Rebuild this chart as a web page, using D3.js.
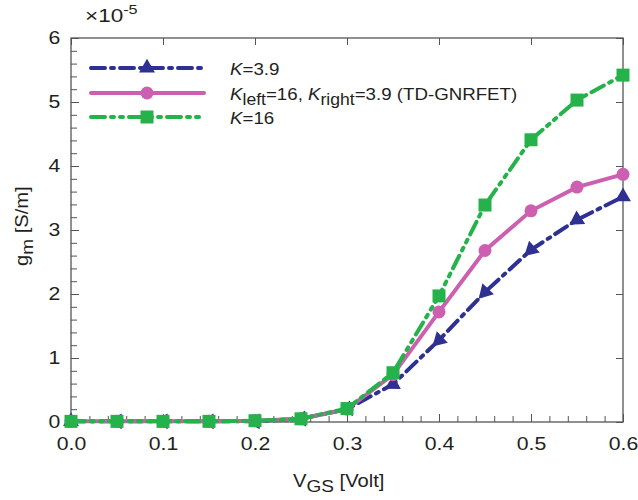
<!DOCTYPE html>
<html>
<head>
<meta charset="utf-8">
<script src="https://cdn.jsdelivr.net/npm/d3@7"></script>
<style>
  body { margin: 0; background: #fff; }
  text { font-family: "Liberation Sans", Arial, sans-serif; fill: #231f20; }
</style>
</head>
<body>
<div class="chart"></div>
<script>
// data (values in units of 1e-5 S/m)
var vgs = [0.0, 0.05, 0.1, 0.15, 0.2, 0.25, 0.3, 0.35, 0.4, 0.45, 0.5, 0.55, 0.6];
var k39 = [0.01, 0.01, 0.01, 0.01, 0.01, 0.05, 0.2, 0.59, 1.28, 2.03, 2.69, 3.16, 3.52];
var kTD = [0.01, 0.01, 0.01, 0.01, 0.02, 0.05, 0.2, 0.74, 1.72, 2.68, 3.30, 3.67, 3.87];
var k16 = [0.01, 0.01, 0.01, 0.01, 0.02, 0.05, 0.21, 0.77, 1.97, 3.39, 4.41, 5.03, 5.42];
var xTicks = [0.0, 0.1, 0.2, 0.3, 0.4, 0.5, 0.6];
var yTicks = [0, 1, 2, 3, 4, 5, 6];

var W = 638, H = 500;
var margin = {left: 71, right: 15, top: 38, bottom: 78};
var wide = "scale(1.18,1)"; // the original lettering is a bit stretched sideways

var svg = d3.select(".chart").append("svg")
  .attr("width", W)
  .attr("height", H);

var x = d3.scaleLinear().domain([0, 0.6]).range([margin.left, W - margin.right]);
var y = d3.scaleLinear().domain([0, 6]).range([H - margin.bottom, margin.top]);

var series = [
  {name: "k39", vals: k39, color: "#2e3192", dash: "14,6,3,6", marker: "tri"},
  {name: "kTD", vals: kTD, color: "#cc5fb0", dash: null, marker: "circle"},
  {name: "k16", vals: k16, color: "#25b24a", dash: "14,6,3,6,3,6", marker: "square"}
];

var axisColor = "#555";

// frame
svg.append("rect")
  .attr("x", x(0)).attr("y", y(6))
  .attr("width", x(0.6) - x(0)).attr("height", y(0) - y(6))
  .attr("fill", "none").attr("stroke", axisColor).attr("stroke-width", 1.3);

function cleanAxis(g) {
  g.select(".domain").remove();
  g.selectAll("line").attr("stroke", axisColor);
  g.selectAll("text").style("font-size", "18px").attr("fill", "#231f20").attr("transform", wide);
}

// bottom axis: minor ticks, then major ticks with labels (inward)
svg.append("g").attr("transform", "translate(0," + y(0) + ")")
  .call(d3.axisBottom(x).tickValues(d3.range(0, 0.6001, 0.02)).tickSize(-6).tickFormat(""))
  .call(cleanAxis);
svg.append("g").attr("transform", "translate(0," + y(0) + ")")
  .call(d3.axisBottom(x).tickValues(xTicks).tickSize(-8).tickPadding(15).tickFormat(d3.format(".1f")))
  .call(cleanAxis);

// top axis: major ticks only
svg.append("g").attr("transform", "translate(0," + y(6) + ")")
  .call(d3.axisTop(x).tickValues(xTicks).tickSize(-7).tickFormat(""))
  .call(cleanAxis);

// left axis: minor + major
svg.append("g").attr("transform", "translate(" + x(0) + ",0)")
  .call(d3.axisLeft(y).tickValues(d3.range(0, 6.001, 0.2)).tickSize(-6).tickFormat(""))
  .call(cleanAxis);
svg.append("g").attr("transform", "translate(" + x(0) + ",0)")
  .call(d3.axisLeft(y).tickValues(yTicks).tickSize(-8).tickPadding(9).tickFormat(d3.format("d")))
  .call(cleanAxis);

// right axis: major
svg.append("g").attr("transform", "translate(" + x(0.6) + ",0)")
  .call(d3.axisRight(y).tickValues(yTicks).tickSize(-7).tickFormat(""))
  .call(cleanAxis);

// lines
var line = d3.line().x(function(d) { return x(d[0]); }).y(function(d) { return y(d[1]); });

function drawMarker(g, type, px, py, color, angle) {
  if (type == "circle") {
    g.append("circle").attr("cx", px).attr("cy", py).attr("r", 6.5).attr("fill", color);
  } else if (type == "square") {
    g.append("rect").attr("x", px - 6.5).attr("y", py - 6.5).attr("width", 13).attr("height", 13).attr("fill", color);
  } else {
    g.append("path")
      .attr("d", d3.symbol().type(d3.symbolTriangle).size(110)())
      .attr("transform", "translate(" + px + "," + py + ") rotate(" + angle + ")")
      .attr("fill", color);
  }
}

series.forEach(function(s) {
  var pts = vgs.map(function(v, i) { return [v, s.vals[i]]; });
  svg.append("path")
    .datum(pts)
    .attr("d", line)
    .attr("fill", "none")
    .attr("stroke", s.color)
    .attr("stroke-width", 4)
    .attr("stroke-linecap", "round")
    .attr("stroke-dasharray", s.dash);
  var g = svg.append("g");
  pts.forEach(function(p, i) {
    var ang = 0;
    if (s.marker == "tri" && i > 0 && i < pts.length - 1) {
      // triangles point back along the curve
      var dx = x(pts[i - 1][0]) - x(p[0]), dy = y(pts[i - 1][1]) - y(p[1]);
      ang = Math.atan2(dy, dx) * 180 / Math.PI + 90;
    }
    drawMarker(g, s.marker, x(p[0]), y(p[1]), s.color, ang);
  });
});

// legend
var legY = [68, 93, 117];
series.forEach(function(s, i) {
  svg.append("line")
    .attr("x1", 91).attr("x2", 204)
    .attr("y1", legY[i]).attr("y2", legY[i])
    .attr("stroke", s.color).attr("stroke-width", 4)
    .attr("stroke-linecap", "round")
    .attr("stroke-dasharray", s.dash);
  drawMarker(svg, s.marker, 147, legY[i], s.color, 0);
});

function legText(i) {
  return svg.append("g").attr("transform", "translate(230," + (legY[i] + 7) + ") scale(1.1,1)")
    .append("text").style("font-size", "17px");
}
var t1 = legText(0);
t1.append("tspan").style("font-style", "italic").text("K");
t1.append("tspan").text("=3.9");

var t2 = legText(1);
t2.append("tspan").style("font-style", "italic").text("K");
t2.append("tspan").attr("dy", 5).style("font-size", "16px").text("left");
t2.append("tspan").attr("dy", -5).text("=16, ");
t2.append("tspan").style("font-style", "italic").text("K");
t2.append("tspan").attr("dy", 5).style("font-size", "16px").text("right");
t2.append("tspan").attr("dy", -5).text("=3.9 (TD-GNRFET)");

var t3 = legText(2);
t3.append("tspan").style("font-style", "italic").text("K");
t3.append("tspan").text("=16");

// exponent label
var ex = svg.append("g").attr("transform", "translate(85,22) scale(1.25,1)")
  .append("text").style("font-size", "18px");
ex.append("tspan").text("\u00d710");
ex.append("tspan").attr("dy", -8).style("font-size", "13px").text("-5");

// axis titles
var yl = svg.append("g")
  .attr("transform", "translate(28,266) rotate(-90) scale(1.12,1)")
  .append("text")
  .style("font-size", "18px");
yl.append("tspan").text("g");
yl.append("tspan").attr("dy", 5).style("font-size", "17px").text("m");
yl.append("tspan").attr("dy", -5).text(" [S/m]");

var xl = svg.append("g")
  .attr("transform", "translate(293,487) scale(1.12,1)")
  .append("text")
  .style("font-size", "18px");
xl.append("tspan").text("V");
xl.append("tspan").attr("dy", 5).style("font-size", "17px").text("GS");
xl.append("tspan").attr("dy", -5).text(" [Volt]");
</script>
</body>
</html>
